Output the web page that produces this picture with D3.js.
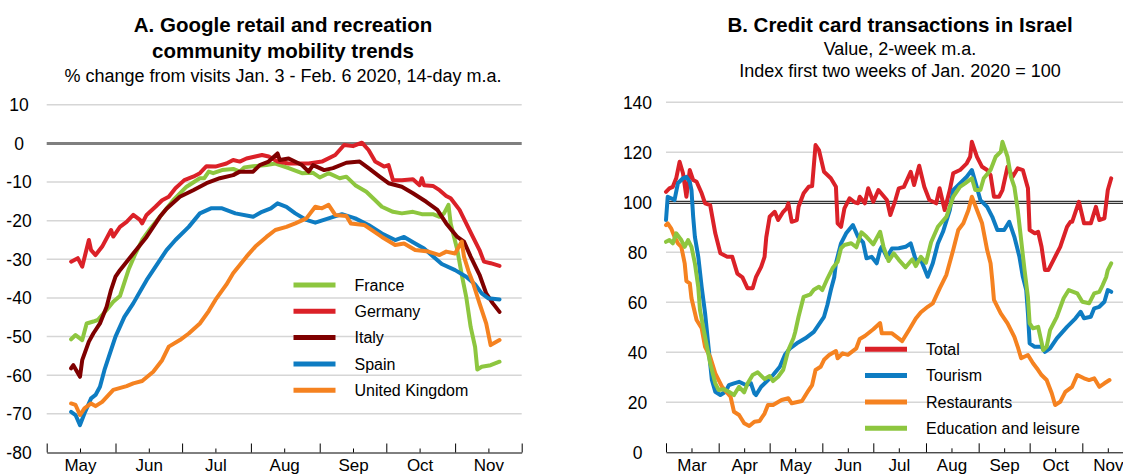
<!DOCTYPE html>
<html>
<head>
<meta charset="utf-8">
<script src="https://cdn.jsdelivr.net/npm/d3@7"></script>
<style>
body { margin: 0; background: #fff; }
svg text { font-family: "Liberation Sans", Arial, Helvetica, sans-serif; fill: #000; }
</style>
</head>
<body>
<div id="chart"></div>
<script>
// ---- Panel A: Google mobility, % change (date "MM-DD", value) ----
var france = [["05-12",-50.7],["05-14",-49.6],["05-17",-50.9],["05-19",-46.6],["05-22",-46.1],["05-24",-45.7],["05-28",-43.1],["05-31",-41.0],["06-03",-39.5],["06-07",-32.5],["06-10",-28.5],["06-13",-25.0],["06-17",-21.8],["06-21",-19.0],["06-27",-14.7],["07-03",-11.2],["07-09",-9.0],["07-11",-9.0],["07-13",-7.3],["07-15",-7.7],["07-19",-6.9],["07-24",-6.6],["07-27",-7.3],["07-29",-6.2],["08-02",-5.9],["08-08",-5.6],["08-12",-5.2],["08-16",-6.0],["08-18",-6.4],["08-24",-7.7],["08-29",-7.6],["09-01",-8.8],["09-05",-7.7],["09-10",-9.0],["09-13",-8.6],["09-17",-10.8],["09-22",-12.5],["09-26",-14.7],["09-29",-16.4],["10-04",-17.7],["10-08",-18.1],["10-13",-17.7],["10-17",-18.3],["10-22",-18.3],["10-25",-19.0],["10-27",-18.1],["10-29",-15.9],["10-30",-20.7],["11-02",-27.6],["11-04",-34.0],["11-06",-39.7],["11-08",-47.5],["11-10",-52.7],["11-11",-58.5],["11-13",-57.8],["11-17",-57.4],["11-21",-56.5]];
var germany = [["05-12",-30.6],["05-15",-29.7],["05-17",-31.9],["05-20",-25.0],["05-21",-27.6],["05-23",-28.9],["05-26",-26.7],["05-30",-22.4],["05-31",-24.1],["06-03",-21.6],["06-06",-20.3],["06-09",-18.5],["06-12",-19.8],["06-13",-20.7],["06-15",-18.5],["06-19",-16.4],["06-22",-14.7],["06-25",-13.8],["06-28",-11.6],["07-02",-9.5],["07-06",-8.6],["07-09",-7.7],["07-12",-5.9],["07-16",-6.0],["07-21",-5.2],["07-24",-4.3],["07-27",-4.7],["07-30",-3.9],["08-03",-3.4],["08-06",-3.0],["08-09",-3.4],["08-13",-4.7],["08-18",-5.2],["08-21",-5.2],["08-27",-5.2],["09-02",-4.7],["09-08",-3.0],["09-12",-0.4],["09-16",-0.7],["09-20",0.2],["09-23",-1.7],["09-26",-4.7],["09-30",-6.0],["10-02",-5.6],["10-04",-9.5],["10-08",-9.5],["10-13",-9.3],["10-16",-10.8],["10-17",-9.0],["10-18",-10.8],["10-22",-11.0],["10-25",-12.1],["10-28",-13.6],["10-30",-14.2],["11-03",-17.2],["11-06",-20.7],["11-09",-24.2],["11-12",-27.6],["11-14",-30.6],["11-17",-31.0],["11-21",-31.7]];
var italy = [["05-12",-58.2],["05-13",-57.4],["05-16",-60.4],["05-17",-56.1],["05-20",-51.3],["05-22",-49.2],["05-25",-46.6],["05-28",-42.3],["05-30",-37.9],["06-01",-34.5],["06-03",-32.8],["06-09",-28.5],["06-15",-24.2],["06-21",-19.0],["06-24",-16.9],["06-30",-13.8],["07-06",-12.1],["07-12",-10.3],["07-18",-9.0],["07-24",-8.2],["07-27",-7.3],["08-02",-7.3],["08-05",-5.6],["08-09",-4.7],["08-13",-2.6],["08-14",-4.3],["08-18",-3.9],["08-24",-5.6],["08-27",-7.3],["08-29",-5.6],["09-03",-6.9],["09-07",-6.4],["09-13",-5.0],["09-19",-4.7],["09-23",-6.4],["09-28",-8.6],["10-02",-10.3],["10-08",-11.2],["10-13",-12.9],["10-19",-15.1],["10-24",-17.2],["10-28",-20.7],["11-02",-24.2],["11-05",-25.4],["11-08",-29.3],["11-12",-34.0],["11-15",-38.8],["11-18",-41.4],["11-21",-43.6]];
var spain = [["05-12",-69.5],["05-14",-70.3],["05-16",-72.9],["05-18",-69.9],["05-21",-66.0],["05-23",-65.1],["05-25",-63.0],["05-27",-58.7],["05-29",-55.2],["06-01",-50.0],["06-05",-44.9],["06-09",-41.4],["06-12",-38.4],["06-15",-35.4],["06-18",-32.8],["06-24",-27.6],["06-28",-25.0],["07-04",-21.6],["07-09",-18.1],["07-14",-16.8],["07-19",-16.8],["07-25",-18.1],["08-02",-19.0],["08-06",-17.7],["08-10",-16.8],["08-13",-15.5],["08-17",-16.4],["08-21",-18.1],["08-26",-19.8],["08-30",-20.5],["09-05",-19.4],["09-11",-18.3],["09-17",-19.4],["09-23",-21.1],["09-29",-23.3],["10-05",-25.0],["10-09",-24.2],["10-14",-25.9],["10-18",-27.2],["10-23",-29.7],["10-26",-31.2],["11-01",-32.8],["11-06",-34.5],["11-10",-36.5],["11-13",-38.8],["11-16",-40.1],["11-21",-40.4]];
var uk = [["05-12",-67.3],["05-14",-67.7],["05-16",-70.3],["05-18",-68.6],["05-21",-67.3],["05-23",-68.0],["05-26",-66.9],["05-31",-63.8],["06-06",-62.8],["06-09",-62.1],["06-13",-61.5],["06-18",-59.1],["06-22",-56.1],["06-25",-52.6],["06-30",-50.9],["07-04",-49.2],["07-09",-46.6],["07-13",-43.4],["07-16",-40.5],["07-21",-36.5],["07-24",-33.6],["07-30",-29.3],["08-03",-26.7],["08-08",-24.2],["08-12",-22.4],["08-17",-21.6],["08-21",-20.7],["08-26",-19.4],["08-30",-16.4],["09-02",-16.8],["09-05",-15.9],["09-08",-18.5],["09-13",-18.8],["09-15",-20.7],["09-21",-21.1],["09-29",-24.2],["10-05",-26.3],["10-09",-25.9],["10-14",-27.6],["10-20",-28.0],["10-25",-28.9],["10-28",-28.0],["11-01",-28.5],["11-04",-25.4],["11-05",-29.3],["11-07",-33.0],["11-09",-36.0],["11-12",-41.4],["11-15",-46.6],["11-17",-52.2],["11-21",-50.9]];

var namesA = ["France", "Germany", "Italy", "Spain", "United Kingdom"];
var colorsA = ["#8dc63f", "#db2128", "#7f0000", "#0e7cc2", "#f58220"];
var ticksA = [10, 0, -10, -20, -30, -40, -50, -60, -70, -80];

// ---- Panel B: credit card transactions, index (date "MM-DD", value) ----
var total = [["03-01",104.2],["03-03",105.6],["03-05",106.2],["03-07",109.6],["03-09",116.2],["03-11",111.6],["03-13",102.2],["03-15",112.9],["03-17",108.9],["03-19",108.2],["03-22",103.6],["03-24",99.6],["03-27",98.9],["03-30",87.6],["04-02",79.6],["04-06",78.2],["04-09",78.2],["04-12",71.5],["04-15",70.0],["04-18",65.6],["04-21",65.6],["04-23",70.2],["04-26",74.2],["04-28",78.2],["04-29",86.0],["05-01",94.2],["05-04",96.2],["05-06",92.9],["05-09",96.2],["05-11",97.6],["05-12",99.6],["05-14",92.2],["05-17",92.9],["05-18",98.2],["05-21",103.6],["05-24",106.2],["05-26",106.5],["05-28",122.9],["05-30",120.9],["06-02",112.2],["06-06",109.6],["06-09",106.2],["06-10",91.6],["06-12",90.2],["06-14",97.6],["06-17",101.6],["06-20",100.0],["06-22",99.6],["06-23",102.2],["06-26",99.6],["06-28",105.6],["07-01",100.2],["07-04",104.9],["07-09",100.9],["07-11",94.9],["07-14",100.9],["07-16",105.6],["07-19",106.2],["07-23",112.2],["07-25",106.9],["07-28",114.6],["07-31",106.2],["08-03",100.9],["08-07",99.6],["08-09",105.6],["08-12",96.9],["08-15",104.9],["08-17",111.6],["08-21",112.9],["08-25",115.6],["08-27",118.2],["08-28",124.2],["08-31",118.2],["09-03",114.2],["09-06",112.9],["09-08",110.9],["09-10",102.2],["09-13",102.2],["09-15",104.9],["09-18",114.2],["09-21",110.2],["09-24",113.6],["09-27",112.9],["09-30",105.6],["10-01",88.9],["10-04",87.6],["10-06",88.2],["10-08",82.2],["10-10",72.9],["10-12",72.9],["10-15",76.9],["10-19",82.2],["10-23",90.2],["10-25",92.2],["10-26",92.2],["10-30",100.2],["11-02",91.6],["11-06",91.6],["11-09",98.2],["11-11",92.9],["11-14",93.6],["11-16",104.9],["11-18",109.6]];
var tourism = [["03-01",92.9],["03-02",102.2],["03-04",101.6],["03-06",100.9],["03-08",107.6],["03-11",109.6],["03-13",110.2],["03-15",108.2],["03-16",104.9],["03-17",94.2],["03-18",86.2],["03-20",78.2],["03-22",66.0],["03-24",55.6],["03-26",42.2],["03-28",28.9],["03-30",24.2],["04-02",22.9],["04-05",24.2],["04-07",26.9],["04-10",27.6],["04-13",28.2],["04-17",26.9],["04-20",27.6],["04-22",23.6],["04-23",22.9],["04-26",26.2],["04-29",28.2],["05-03",30.9],["05-07",34.2],["05-10",39.0],["05-13",41.6],["05-17",43.6],["05-22",45.6],["05-27",48.2],["05-31",52.2],["06-02",54.2],["06-04",59.0],["06-06",64.9],["06-08",70.0],["06-09",75.6],["06-12",83.6],["06-15",87.6],["06-19",90.9],["06-22",86.2],["06-25",84.0],["06-27",77.6],["06-30",78.2],["07-03",75.6],["07-05",80.9],["07-06",82.2],["07-09",78.0],["07-12",81.5],["07-16",81.6],["07-20",82.2],["07-23",83.6],["07-26",76.9],["07-29",77.0],["08-02",70.2],["08-05",75.6],["08-08",83.5],["08-11",88.2],["08-15",96.9],["08-17",104.9],["08-21",107.6],["08-25",110.2],["08-28",112.9],["08-30",108.2],["09-02",100.9],["09-06",98.2],["09-09",94.2],["09-12",88.9],["09-16",88.9],["09-19",92.2],["09-22",86.2],["09-25",78.2],["09-27",70.2],["09-29",64.9],["09-30",55.6],["10-01",43.6],["10-04",42.2],["10-08",42.2],["10-10",40.2],["10-13",41.6],["10-17",45.6],["10-23",50.2],["10-28",53.6],["10-31",56.2],["11-02",53.6],["11-06",54.2],["11-08",57.6],["11-11",58.2],["11-14",60.2],["11-16",64.9],["11-18",64.2]];
var restaurants = [["03-01",90.9],["03-02",91.6],["03-04",89.6],["03-06",86.2],["03-08",83.6],["03-10",82.2],["03-12",75.6],["03-13",68.5],["03-15",67.6],["03-16",61.6],["03-19",52.9],["03-22",49.6],["03-24",42.2],["03-27",38.2],["03-30",31.6],["04-03",26.2],["04-08",22.2],["04-10",16.2],["04-13",14.9],["04-16",11.6],["04-19",10.5],["04-22",12.2],["04-25",12.5],["04-28",15.5],["04-30",18.9],["05-03",18.9],["05-08",20.9],["05-12",21.6],["05-14",19.6],["05-20",20.5],["05-24",24.9],["05-26",26.9],["05-28",32.9],["05-31",34.2],["06-02",37.0],["06-05",38.9],["06-09",40.5],["06-10",37.6],["06-13",39.6],["06-16",39.0],["06-21",41.6],["06-23",45.3],["06-26",46.5],["07-01",49.2],["07-05",51.7],["07-06",47.6],["07-12",47.6],["07-18",44.5],["07-22",48.9],["07-26",53.5],["07-29",56.0],["08-02",58.2],["08-05",59.6],["08-09",65.5],["08-13",71.0],["08-17",80.9],["08-20",88.9],["08-23",91.6],["08-26",96.9],["08-28",102.2],["08-31",96.9],["09-03",91.6],["09-06",80.9],["09-08",75.6],["09-09",68.9],["09-10",61.0],["09-14",55.6],["09-18",51.6],["09-22",46.2],["09-24",42.2],["09-26",37.6],["09-30",38.9],["10-03",35.6],["10-06",32.9],["10-08",30.9],["10-11",28.9],["10-14",23.6],["10-16",18.9],["10-19",20.2],["10-22",24.2],["10-26",26.2],["10-29",30.9],["11-02",29.6],["11-05",28.9],["11-08",29.6],["11-11",26.2],["11-14",27.6],["11-17",28.9]];
var education = [["03-01",84.2],["03-03",84.9],["03-05",83.6],["03-07",87.6],["03-10",84.9],["03-12",82.2],["03-14",84.9],["03-16",82.2],["03-18",75.6],["03-20",66.0],["03-21",56.9],["03-24",46.2],["03-27",35.6],["03-30",27.6],["04-01",24.9],["04-04",25.2],["04-07",24.2],["04-10",22.9],["04-13",26.2],["04-16",24.0],["04-18",27.5],["04-21",30.9],["04-24",32.0],["04-28",29.3],["05-01",30.5],["05-03",28.5],["05-06",30.2],["05-09",33.0],["05-12",40.9],["05-15",45.6],["05-16",48.0],["05-18",54.2],["05-21",62.2],["05-25",63.2],["05-27",65.0],["05-30",66.2],["06-01",64.9],["06-04",69.5],["06-07",73.6],["06-10",76.2],["06-12",81.6],["06-14",82.9],["06-18",83.6],["06-21",82.0],["06-24",88.0],["06-27",86.2],["07-01",83.2],["07-05",88.2],["07-07",82.2],["07-10",76.5],["07-13",79.6],["07-16",77.0],["07-20",74.0],["07-24",77.2],["07-26",74.5],["07-29",78.2],["08-01",75.8],["08-04",84.0],["08-08",90.2],["08-13",94.2],["08-17",102.2],["08-21",106.2],["08-24",107.6],["08-28",109.6],["08-30",104.9],["09-02",104.9],["09-04",109.6],["09-08",112.9],["09-11",118.2],["09-14",120.2],["09-15",124.2],["09-18",118.2],["09-20",110.2],["09-22",106.2],["09-24",96.9],["09-26",84.9],["09-28",72.9],["09-30",62.0],["10-01",51.6],["10-03",49.6],["10-06",50.2],["10-09",40.9],["10-11",42.2],["10-13",48.9],["10-17",54.2],["10-21",61.6],["10-24",64.9],["10-29",63.6],["11-01",60.2],["11-05",59.6],["11-08",63.6],["11-11",64.2],["11-13",66.9],["11-15",70.0],["11-16",72.9],["11-18",75.6]];

var namesB = ["Total", "Tourism", "Restaurants", "Education and leisure"];
var colorsB = ["#db2128", "#0e7cc2", "#f58220", "#8dc63f"];
var ticksB = [140, 120, 100, 80, 60, 40, 20, 0];

var parseDay = function(s) { return d3.timeParse("%Y-%m-%d")("2020-" + s); };

var svg = d3.select("#chart")
    .append("svg")
    .attr("width", 1123)
    .attr("height", 475);

function draw_panel(p) {
    var x = d3.scaleTime().domain([parseDay(p.start), parseDay("12-01")]).range(p.xRange);
    var y = d3.scaleLinear().domain(p.yDomain).range(p.yRange);
    var g = svg.append("g");

    // gridlines
    g.selectAll(".grid")
        .data(p.ticks.filter(function(t) { return t !== p.ref && t !== p.yDomain[0]; }))
        .enter().append("line")
        .attr("x1", p.xRange[0]).attr("x2", p.gridEnd)
        .attr("y1", function(d) { return y(d); })
        .attr("y2", function(d) { return y(d); })
        .attr("stroke", "#d6d6d6")
        .attr("stroke-width", 1.5);

    // reference line
    if (p.ref === 0) {
        g.append("line")
            .attr("x1", p.xRange[0]).attr("x2", p.gridEnd)
            .attr("y1", y(0)).attr("y2", y(0))
            .attr("stroke", "#7f7f7f").attr("stroke-width", 3);
    } else {
        [-1, 1].forEach(function(o) {
            g.append("line")
                .attr("x1", p.xRange[0]).attr("x2", p.gridEnd)
                .attr("y1", y(p.ref) + o).attr("y2", y(p.ref) + o)
                .attr("stroke", "#000").attr("stroke-width", 1);
        });
    }

    // y labels
    g.selectAll(".ylab")
        .data(p.ticks)
        .enter().append("text")
        .attr("x", p.labelX)
        .attr("y", function(d) { return y(d); })
        .attr("dy", "0.36em")
        .attr("text-anchor", "middle")
        .style("font-size", "17.5px")
        .text(function(d) { return d; });

    // x axis: month boundaries (long ticks) + mid-month labels (short ticks)
    var months = d3.timeMonth.range(parseDay(p.start), d3.timeDay.offset(parseDay("12-01"), 1));
    var mids = months.slice(0, -1).map(function(m) { return d3.timeDay.offset(m, 15); });
    var base = y.range()[0];

    var majorAxis = d3.axisBottom(x).tickValues(months).tickSize(-9).tickSizeOuter(0).tickFormat("");
    var minorAxis = d3.axisBottom(x).tickValues(mids).tickSize(-4).tickPadding(6.5)
        .tickFormat(d3.timeFormat("%b"));

    var ax1 = g.append("g").attr("transform", "translate(0," + base + ")").call(majorAxis);
    var ax2 = g.append("g").attr("transform", "translate(0," + base + ")").call(minorAxis);
    ax2.select(".domain").remove();
    ax1.selectAll("line").attr("stroke", "#000");
    ax1.select(".domain").attr("stroke", "#000");
    ax2.selectAll("line").attr("stroke", "#000");
    ax2.selectAll("text")
        .style("font-size", "17px")
        .style("font-family", "'Liberation Sans', Arial, sans-serif")
        .attr("fill", "#000");

    // series
    var line = d3.line()
        .x(function(d) { return x(parseDay(d[0])); })
        .y(function(d) { return y(d[1]); });

    p.series.forEach(function(s, i) {
        g.append("path")
            .attr("d", line(s))
            .attr("fill", "none")
            .attr("stroke", p.colors[i])
            .attr("stroke-width", p.lineWidth)
            .attr("stroke-linejoin", "round")
            .attr("stroke-linecap", "round");
    });

    // legend
    p.names.forEach(function(n, i) {
        var ly = p.legend[1] + i * 26.3;
        g.append("line")
            .attr("x1", p.legend[0]).attr("x2", p.legend[0] + 42)
            .attr("y1", ly).attr("y2", ly)
            .attr("stroke", p.colors[i]).attr("stroke-width", 5);
        g.append("text")
            .attr("x", p.legend[0] + 61)
            .attr("y", ly)
            .attr("dy", "0.36em")
            .style("font-size", "16px")
            .text(n);
    });

    // titles
    p.titles.forEach(function(t) {
        g.append("text")
            .attr("x", p.titleX)
            .attr("y", t[1])
            .attr("text-anchor", "middle")
            .style("font-size", t[2] ? "20.5px" : "18px")
            .style("font-weight", t[2] ? "bold" : "normal")
            .text(t[0]);
    });
}

draw_panel({
    start: "05-01",
    xRange: [46.7, 521.7],
    gridEnd: 521.7,
    yDomain: [-80, 10],
    yRange: [452.5, 104.8],
    ticks: ticksA,
    ref: 0,
    labelX: 19,
    series: [france, germany, italy, spain, uk],
    names: namesA,
    colors: colorsA,
    lineWidth: 4,
    legend: [293.5, 285],
    titleX: 283,
    titles: [["A. Google retail and recreation", 32, true],
             ["community mobility trends", 57.5, true],
             ["% change from visits Jan. 3 - Feb. 6 2020, 14-day m.a.", 81.5, false]]
});

draw_panel({
    start: "03-01",
    xRange: [666, 1133.3],
    gridEnd: 1133.3,
    yDomain: [0, 140],
    yRange: [452.3, 102.3],
    ticks: ticksB,
    ref: 100,
    labelX: 637.5,
    series: [total, tourism, restaurants, education],
    names: namesB,
    colors: colorsB,
    lineWidth: 4,
    legend: [865, 349.3],
    titleX: 900,
    titles: [["B. Credit card transactions in Israel", 32, true],
             ["Value, 2-week m.a.", 55, false],
             ["Index first two weeks of Jan. 2020 = 100", 76.5, false]]
});
</script>
</body>
</html>
